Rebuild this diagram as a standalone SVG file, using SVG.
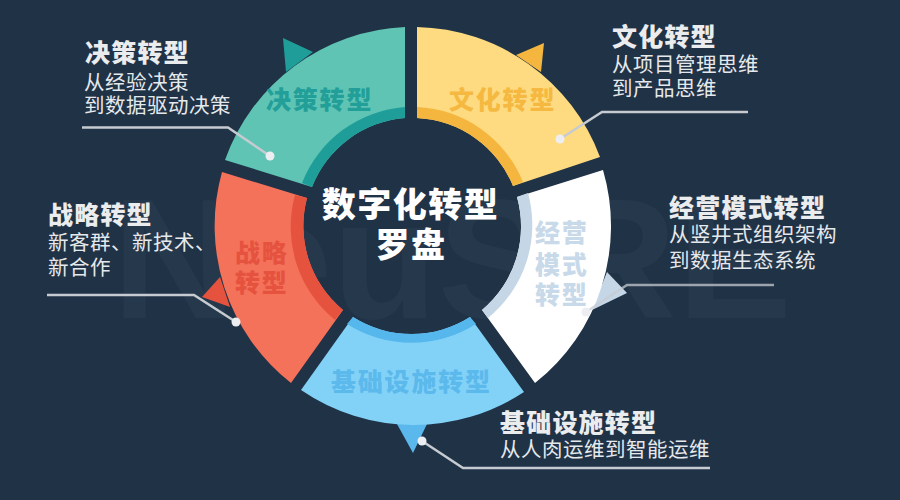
<svg xmlns="http://www.w3.org/2000/svg" width="900" height="500" viewBox="0 0 900 500">
<style>
text{font-family:"Noto Sans CJK SC","Noto Sans",sans-serif}
.h{font-size:25px;font-weight:900;fill:#eaecee;letter-spacing:1.200px}
.s{font-size:20.5px;font-weight:400;fill:#e6e9ec;letter-spacing:.5px}
.l{font-size:25px;font-weight:900;letter-spacing:1.800px}
.c{font-size:34px;font-weight:900;fill:#fff;letter-spacing:1.500px;text-anchor:middle}
.lead{fill:none;stroke:#c6cbd1;stroke-width:2.500}
.dot{fill:#eceef1}
</style>
<rect width="900" height="500" fill="#203246"/>
<text id="watermark" x="112" y="318" font-size="170" textLength="680" lengthAdjust="spacingAndGlyphs" style="font-family:'Liberation Sans',sans-serif;font-weight:700;fill:#25384c">NeuSRE</text>

<g id="node-decision">
<polygon points="283,38 313,52 286,72" fill="#1f9e99"/>
<path d="M405 27A200 200 0 0 0 225 160L312 187A109 109 0 0 1 405 118Z" fill="#5fc4b4"/>
<path d="M405 107A120 120 0 0 0 302 183L312 187A109 109 0 0 1 405 118Z" fill="#1f9e99"/>
<text class="l" x="266" y="109" fill="#239f99">决策转型</text>
</g>
<g id="node-culture">
<polygon points="544,43 516,55 541,72" fill="#f5b63f"/>
<path d="M417 27A200 200 0 0 1 600 157L513 186A109 109 0 0 0 417 118Z" fill="#fedb80"/>
<path d="M417 107A120 120 0 0 1 523 182L513 186A109 109 0 0 0 417 118Z" fill="#f5b63f"/>
<text class="l" x="449" y="109" fill="#f5b942">文化转型</text>
</g>
<g id="node-business">
<polygon points="607,272 627,293 592,310" fill="#c5d6e6"/>
<path d="M603 170A200 200 0 0 1 535 383L482 310A109 109 0 0 0 517 197Z" fill="#fff"/>
<path d="M528 193A120 120 0 0 1 488 318L482 310A109 109 0 0 0 517 197Z" fill="#c5d6e6"/>
<g class="l" fill="#c8d9e9"><text x="535" y="242">经营</text><text x="535" y="274">模式</text><text x="535" y="304">转型</text></g>
</g>
<g id="node-infrastructure">
<polygon points="397,424 427,424 413,453" fill="#5bb8ec"/>
<path d="M353 317A109 109 0 0 0 470 317L524 392A200 200 0 0 1 301 390Z" fill="#82d2f8"/>
<path d="M353 317A109 109 0 0 0 470 317L476 324A120 120 0 0 1 347 324Z" fill="#55b7ec"/>
<text class="l" x="331" y="391" fill="#5cb9ec">基础设施转型</text>
</g>
<g id="node-strategy">
<polygon points="220,277 202,297 230,307" fill="#e5533f"/>
<path d="M222 172A200 200 0 0 0 291 383L343 310A109 109 0 0 1 307 198Z" fill="#f4715a"/>
<path d="M295 195A120 120 0 0 0 335 320L343 310A109 109 0 0 1 307 198Z" fill="#e5533f"/>
<g class="l" fill="#e5533f"><text x="235" y="262">战略</text><text x="235" y="292">转型</text></g>
</g>

<g id="connectors">
<polyline class="lead" points="82,127.500 228,127.500 270,156"/>
<polyline class="lead" points="560,139 602,112 748,112"/>
<polyline class="lead" points="586,312 627,285 774,285" opacity=".75"/>
<polyline class="lead" points="422,441 463,468 710,468"/>
<polyline class="lead" points="47,295 194,295 236,322"/>
<circle class="dot" cx="270" cy="156" r="4.500"/>
<circle class="dot" cx="560" cy="139" r="4.500"/>
<circle class="dot" cx="586" cy="312" r="4.500"/>
<circle class="dot" cx="422" cy="441" r="4.500"/>
<circle class="dot" cx="236" cy="322" r="4.500"/>
</g>

<g id="center"><text class="c" x="410.500" y="217">数字化转型</text><text class="c" x="411" y="257">罗盘</text></g>

<g id="label-decision"><text class="h" x="85" y="62">决策转型</text><text class="s" x="84" y="90">从经验决策</text><text class="s" x="84" y="113">到数据驱动决策</text></g>
<g id="label-culture"><text class="h" x="612" y="46">文化转型</text><text class="s" x="612" y="72">从项目管理思维</text><text class="s" x="612" y="96">到产品思维</text></g>
<g id="label-business"><text class="h" x="669" y="217">经营模式转型</text><text class="s" x="669" y="242">从竖井式组织架构</text><text class="s" x="669" y="268">到数据生态系统</text></g>
<g id="label-strategy"><text class="h" x="48" y="224">战略转型</text><text class="s" x="48" y="250">新客群、新技术、</text><text class="s" x="48" y="275">新合作</text></g>
<g id="label-infrastructure"><text class="h" x="500" y="432">基础设施转型</text><text class="s" x="500" y="457">从人肉运维到智能运维</text></g>
</svg>
